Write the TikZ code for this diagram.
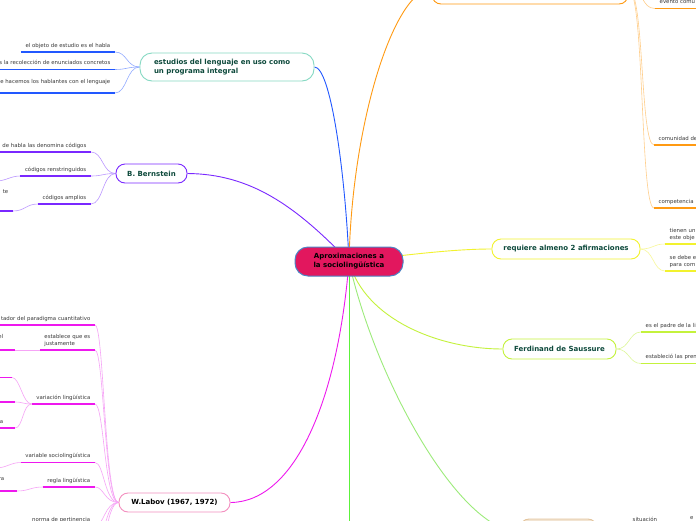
\documentclass[tikz,border=0pt]{standalone}
\usepackage{fontspec}
\setmainfont{DejaVu Sans}
\usepackage{xcolor}
\definecolor{hubpink}{HTML}{E2175E}
\definecolor{hubblue}{HTML}{4C84C4}
\definecolor{inkgreen}{HTML}{0E4A3C}
\definecolor{leafgrey}{HTML}{3A3A3A}
\definecolor{bblue}{HTML}{2258FF}
\definecolor{bblue2}{HTML}{92ABFF}
\definecolor{mint}{HTML}{86D9C3}
\definecolor{bpurple}{HTML}{7A28FF}
\definecolor{bpurple2}{HTML}{BC98FF}
\definecolor{bmag}{HTML}{EE18EE}
\definecolor{bmag2}{HTML}{F6A4F6}
\definecolor{labpink}{HTML}{F38FBF}
\definecolor{borange}{HTML}{FF9A12}
\definecolor{borange2}{HTML}{FFCF8C}
\definecolor{byellow}{HTML}{F2F22E}
\definecolor{byellow2}{HTML}{F8F89A}
\definecolor{blime}{HTML}{C4F23C}
\definecolor{blime2}{HTML}{DDF79A}
\definecolor{bgreen}{HTML}{5CF23A}
\definecolor{bgreen2}{HTML}{9CEB7A}
\definecolor{sand}{HTML}{E3C49C}
\usepackage{tikz}
\pgfdeclarelayer{paper}
\pgfdeclarelayer{back}
\pgfsetlayers{paper,back,main}
\newcommand\leafsize{\fontsize{5.4}{7}\selectfont}
\newcommand\topicsize{\fontsize{7}{9}\selectfont}

\begin{document}
\begin{tikzpicture}[x=1pt, y=-1pt,
  topic/.style={draw=#1, line width=0.9pt, fill=white, rounded corners=9pt,
    font=\topicsize\bfseries, text=inkgreen, inner sep=0pt},
  leaf/.style={font=\leafsize, text=leafgrey, inner xsep=4.5pt, inner ysep=2.4pt,
    text depth=2.4pt, align=left},
  lleaf/.style={leaf, anchor=south east},
  rleaf/.style={leaf, anchor=south west, text width=56pt},
  branch/.style={draw=#1, line width=0.9pt},
  twig/.style={draw=#1, line width=0.6pt},
  rule/.style={draw=#1, line width=1.4pt}]
\useasboundingbox (0,0) rectangle (696,520);
\clip (0,0) rectangle (696,520);
\begin{pgfonlayer}{paper}
\fill[white] (0,0) rectangle (696,520);
\end{pgfonlayer}

% centre
\node[draw=hubblue, line width=1pt, fill=hubpink, rounded corners=13pt,
  minimum width=108pt, minimum height=29pt, inner sep=0pt, align=center,
  font=\topicsize\bfseries] (hub) at (349,261.5) {Aproximaciones a\\la sociolingüística};

% main topics
\node[topic=mint, minimum width=174pt, minimum height=28pt, text width=146pt,
  align=left, rounded corners=12pt] (est) at (227,67) {estudios del lenguaje en uso como\\un programa integral};
\node[topic=bpurple, minimum width=71pt, minimum height=19pt] (bern) at (151.5,173.5) {B. Bernstein};
\node[topic=labpink, text=black, minimum width=111pt, minimum height=19pt] (labov) at (174.5,502.5) {W.Labov (1967, 1972)};
\node[topic=borange, minimum width=196pt, minimum height=30pt] (top) at (530,-11) {};
\node[topic=byellow, minimum width=148pt, minimum height=20pt] (req) at (566,249) {requiere almeno 2 afirmaciones};
\node[topic=blime, minimum width=113pt, minimum height=20pt] (saus) at (559.5,349) {Ferdinand de Saussure};
\node[topic=sand, fill=sand!45, minimum width=77pt, minimum height=26pt] (bot) at (558.5,532) {};
\coordinate (gdown) at (349,600);

% estudios
\node[lleaf] (e1) at (115,52) {el objeto de estudio es el habla};
\node[lleaf] (e2) at (115,69.5) {es la recolección de enunciados concretos};
\node[lleaf, text depth=7pt] (e3) at (115,93) {e hacemos los hablantes con el lenguaje};

% Bernstein
\node[lleaf] (b1) at (91,152) {de habla las denomina códigos};
\node[lleaf] (b2) at (91,176) {códigos renstringuidos};
\node[lleaf] (b3) at (91,204) {códigos amplios};
\node[lleaf, text depth=15pt] (b3a) at (13,211) {te};
\coordinate (b2a) at (-4,181);

% Labov
\node[lleaf] (l1) at (95,325) {tador del paradigma cuantitativo};
\node[lleaf] (l2) at (95,350) {establece que es\\justamente};
\node[lleaf, text depth=9pt] (l2a) at (15,350) {el\hspace*{7pt}};
\node[lleaf] (l3) at (95,404) {variación lingüística};
\node[lleaf, minimum width=22pt] (l3a) at (12,377.5) {};
\node[lleaf, minimum width=22pt] (l3b) at (15,402) {};
\node[lleaf] (l3c) at (15,428) {a\hspace*{7pt}};
\node[lleaf] (l4) at (95,462.5) {variable sociolingüística};
\coordinate (l4a) at (-4,468);
\node[lleaf] (l5) at (95,487) {regla lingüística};
\node[lleaf, text depth=8pt] (l5a) at (17,491) {ra\hspace*{8pt}};
\node[lleaf] (l6) at (95,526) {norma de pertinencia};
\coordinate (l7) at (95,548);
\coordinate (l8) at (95,575);

% right side
\node[rleaf] (o1) at (655,8.5) {evento comu};
\node[rleaf] (o2) at (654,145) {comunidad de};
\node[rleaf] (o3) at (654,208) {competencia};
\node[rleaf, text depth=9.4pt] (r1) at (665,244) {tienen un\\este obje};
\node[rleaf, text depth=9.4pt] (r2) at (665,271) {se debe e\\para com};
\node[rleaf] (s1) at (641,332) {es el padre de la li};
\node[rleaf] (s2) at (641,363.5) {estableció las pren};
\node[rleaf, text width=40pt] (w1) at (628,526) {situación};
\node[rleaf] (w2) at (685.5,524) {e};

\begin{pgfonlayer}{back}
\draw[branch=bblue] (est.east) .. controls +(16,0) and (345,170) .. (hub.center);
\draw[branch=bpurple] (bern.east) .. controls (250,174) and (295,205) .. (hub.center);
\draw[branch=bmag] (labov.east) .. controls (295,502) and (338,400) .. (hub.center);
\draw[branch=borange] (top.west) .. controls (395,-11) and (352,120) .. (hub.center);
\draw[branch=byellow] (req.west) .. controls (455,249) and (415,254) .. (hub.center);
\draw[branch=blime] (saus.west) .. controls (440,349) and (365,320) .. (hub.center);
\draw[branch=bgreen2] (bot.west) .. controls (460,532) and (375,380) .. (hub.center);
\draw[branch=bgreen] (hub.center) -- (gdown);

\foreach \c in {e1,e2,e3}
  \draw[twig=bblue2] (est.west) .. controls +(-13,0) and +(12,0) .. (\c.south east);
\foreach \c in {b1,b2,b3}
  \draw[twig=bpurple2] (bern.west) .. controls +(-13,0) and +(12,0) .. (\c.south east);
\draw[twig=bpurple2] (b2.south west) .. controls +(-10,0) and +(10,0) .. (b2a);
\draw[twig=bpurple2] (b3.south west) .. controls +(-12,0) and +(12,0) .. (b3a.south east);

\foreach \c in {l1,l2,l3,l4,l5,l6}
  \draw[twig=bmag2] (labov.west) .. controls +(-14,0) and +(9,0) .. (\c.south east);
\foreach \c in {l7,l8}
  \draw[twig=bmag2] (labov.west) .. controls +(-14,0) and +(9,0) .. (\c);
\foreach \c in {l3a,l3b,l3c}
  \draw[twig=bmag2] (l3.south west) .. controls +(-9,0) and +(8,0) .. (\c.south east);
\draw[twig=bmag2] (l2.south west) -- (l2a.south east);
\draw[twig=bmag2] (l4.south west) .. controls +(-10,0) and +(10,0) .. (l4a);
\draw[twig=bmag2] (l5.south west) .. controls +(-12,0) and +(12,0) .. (l5a.south east);

\foreach \c in {o1,o2,o3}
  \draw[twig=borange2] (top.east) .. controls +(16,0) and +(-14,0) .. (\c.south west);
\foreach \c in {r1,r2}
  \draw[twig=byellow2] (req.east) .. controls +(13,0) and +(-12,0) .. (\c.south west);
\foreach \c in {s1,s2}
  \draw[twig=blime2] (saus.east) .. controls +(13,0) and +(-12,0) .. (\c.south west);
\draw[twig=bgreen2] (bot.east) .. controls +(16,0) and +(-14,0) .. (w1.south west);
\draw[twig=bgreen2] (w1.south east) .. controls +(4,0) and +(-4,0) .. (w2.south west);
\end{pgfonlayer}

% underlines
\foreach \c in {e1,e2,e3} \draw[rule=bblue] (\c.south west) -- (\c.south east);
\foreach \c in {b1,b2,b3,b3a} \draw[rule=bpurple] (\c.south west) -- (\c.south east);
\foreach \c in {l1,l2,l2a,l3,l3a,l3b,l3c,l4,l5,l5a,l6} \draw[rule=bmag] (\c.south west) -- (\c.south east);
\foreach \c in {o1,o2,o3} \draw[rule=borange] (\c.south west) -- (\c.south east);
\foreach \c in {r1,r2} \draw[rule=byellow] (\c.south west) -- (\c.south east);
\foreach \c in {s1,s2} \draw[rule=blime] (\c.south west) -- (\c.south east);
\foreach \c in {w1,w2} \draw[rule=bgreen2] (\c.south west) -- (\c.south east);
\end{tikzpicture}
\end{document}
